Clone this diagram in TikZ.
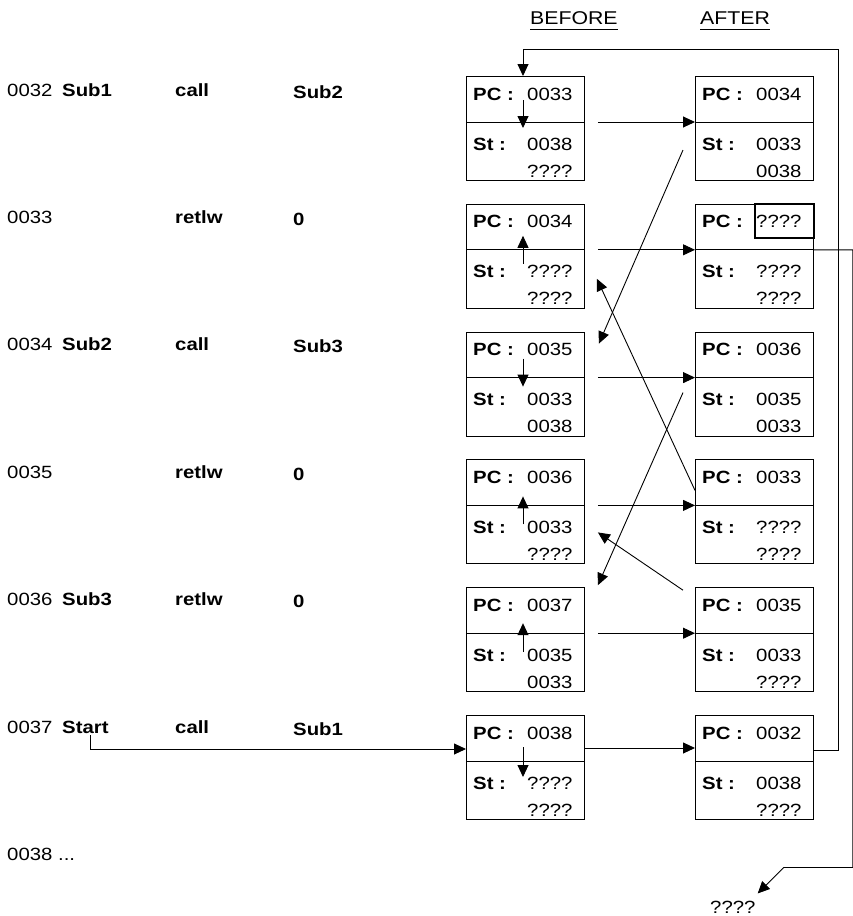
\documentclass[tikz,border=0pt]{standalone}
\usepackage{fontspec}
\setmainfont{Liberation Sans}[FakeStretch=1.15]
\usetikzlibrary{calc,arrows.meta,positioning}
\tikzset{
  ar/.style={-{Triangle[length=12pt,width=11pt]},line width=0.9pt},
  ln/.style={line width=0.9pt},
  regbox/.style={draw,line width=0.9pt,minimum width=118pt,minimum height=104pt,inner sep=0pt,anchor=north west},
  txt/.style={font=\fontsize{17.7}{21}\selectfont,inner sep=0pt,anchor=base west},
  bt/.style={txt,font=\fontsize{17.7}{21}\selectfont\bfseries},
  hd/.style={txt,font=\fontsize{18.5}{22}\selectfont}
}
\begin{document}
\begin{tikzpicture}[x=1pt,y=-1pt]
\useasboundingbox (0,0) rectangle (853,916);
% headings
\node[hd] (bef) at (530,24) {BEFORE};
\node[hd] (aft) at (700,24) {AFTER};
\draw[ln] ([yshift=-5pt]bef.base west) -- ([yshift=-5pt]bef.base east);
\draw[ln] ([yshift=-5pt]aft.base west) -- ([yshift=-5pt]aft.base east);
% program listing
\foreach \i/\ad/\lb/\op/\ag in {1/0032/Sub1/call/Sub2,2/0033//retlw/0,3/0034/Sub2/call/Sub3,
    4/0035//retlw/0,5/0036/Sub3/retlw/0,6/0037/Start/call/Sub1}{
  \pgfmathsetmacro{\yb}{96+127.4*(\i-1)}
  \node[txt] (adr\i) at (7,\yb) {\ad};
  \node[bt] (lbl\i) at (62,\yb) {\lb};
  \node[bt] (op\i) at (175,\yb) {\op};
  \node[bt] (arg\i) at (293,\yb+2) {\ag};
}
\node[txt] (adr7) at (7,860) {0038 ...};
% PC / stack boxes
\foreach \i/\pb/\sb/\sbb/\pa/\sa/\saa in {1/0033/0038/????/0034/0033/0038,2/0034/????/????/????/????/????,
    3/0035/0033/0038/0036/0035/0033,4/0036/0033/????/0033/????/????,
    5/0037/0035/0033/0035/0033/????,6/0038/????/????/0032/0038/????}{
  \pgfmathsetmacro{\T}{76+127.8*(\i-1)}
  \node[regbox] (b\i) at (466,\T) {};
  \node[regbox] (a\i) at (695,\T) {};
  \foreach \c/\p/\s/\ss in {b/\pb/\sb/\sbb,a/\pa/\sa/\saa}{
    \draw[ln] ([yshift=-46pt]\c\i.north west) -- ([yshift=-46pt]\c\i.north east);
    \node[bt] (\c\i-pc) at ([xshift=7pt,yshift=-24pt]\c\i.north west) {PC :};
    \node[txt] (\c\i-pv) at ([xshift=61pt,yshift=-24pt]\c\i.north west) {\p};
    \node[bt] (\c\i-st) at ([xshift=7pt,yshift=-74pt]\c\i.north west) {St :};
    \node[txt] (\c\i-s1) at ([xshift=61pt,yshift=-74pt]\c\i.north west) {\s};
    \node[txt] (\c\i-s2) at ([xshift=61pt,yshift=-101pt]\c\i.north west) {\ss};
  }
}
\draw[line width=2pt] ([xshift=-59pt]a2.north east) rectangle ([yshift=-34pt]a2.north east);
% before -> after
\foreach \i in {1,...,5}
  \draw[ar] ([xshift=13pt,yshift=-46pt]b\i.north east) -- ([yshift=-46pt]a\i.north west);
\draw[ar] ([yshift=-33pt]b6.north east) -- ([yshift=-33pt]a6.north west);
\draw[ar] ([xshift=28pt,yshift=-2pt]lbl6.base west) |- ([yshift=-34pt]b6.north west);
% pc moves inside the before boxes
\foreach \i/\f/\t in {1/24/52,2/60/32,3/27/55,4/65/37,5/65/36,6/32/62}
  \draw[ar] ([xshift=57pt,yshift=-\f pt]b\i.north west) -- ([xshift=57pt,yshift=-\t pt]b\i.north west);
% stack links
\draw[ar] ([xshift=-12pt,yshift=-74pt]a1.north west) -- ([xshift=14pt,yshift=-12pt]b3.north east);
\draw[ar] ([yshift=-31pt]a4.north west) -- ([xshift=12pt,yshift=-75pt]b2.north east);
\draw[ar] ([xshift=-12pt,yshift=-61pt]a3.north west) -- ([xshift=13pt,yshift=2pt]b5.north east);
\draw[ar] ([xshift=-12pt,yshift=-3pt]a5.north west) -- ([xshift=13pt,yshift=-73pt]b4.north east);
% return paths
\draw[ar] ([yshift=-35pt]a6.north east) -- ++(25,0) |- ([xshift=57pt,yshift=27pt]b1.north west)
  -- ([xshift=57pt]b1.north west);
\node[txt] (ret) at (710,913) {????};
\draw[ar] ([yshift=-46pt]a2.north east) -- ++(39,0) |- ([xshift=28pt,yshift=33pt]ret.north east)
  -- ([xshift=2pt,yshift=7pt]ret.north east);
\end{tikzpicture}
\end{document}
